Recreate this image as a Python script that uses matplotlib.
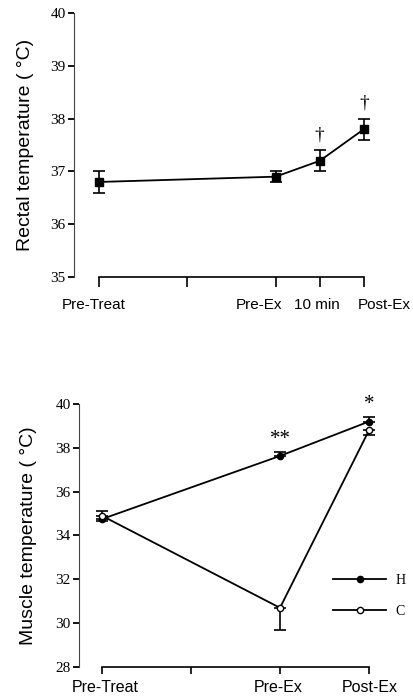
import matplotlib

matplotlib.use("Agg")
import matplotlib.pyplot as plt
import matplotlib.transforms as mtransforms
import numpy as np

# Rectal temperature (top panel)
rectal_x = [0, 2, 2.5, 3]
rectal_mean = [36.8, 36.9, 37.2, 37.8]
rectal_err = [0.2, 0.1, 0.2, 0.2]
rectal_marks = ["", "", "\u2020", "\u2020"]
rectal_ticks = [0, 1, 2, 2.5, 3]
rectal_ticklabels = ["Pre-Treat", "", "Pre-Ex", "10 min", "Post-Ex"]

# Muscle temperature (bottom panel)
muscle_x = [0, 2, 3]
muscle_h = [34.75, 37.63, 39.2]
muscle_h_err_lo = [0.1, 0.0, 0.0]
muscle_h_err_hi = [0.0, 0.17, 0.22]
muscle_c = [34.9, 30.7, 38.8]
muscle_c_err_lo = [0.0, 1.0, 0.2]
muscle_c_err_hi = [0.2, 0.0, 0.0]
muscle_marks = ["", "**", "*"]
muscle_ticks = [0, 1, 2, 3]
muscle_ticklabels = ["Pre-Treat", "", "Pre-Ex", "Post-Ex"]

serif = "Liberation Serif"
sans = "Liberation Sans"

fig = plt.figure(figsize=(4.13, 7.0), dpi=100)


def style_axes(ax, ymin, ymax, ystep):
    for side in ("top", "right"):
        ax.spines[side].set_visible(False)
    ax.spines["left"].set_linewidth(0.8)
    ax.spines["left"].set_color("#444444")
    ax.spines["bottom"].set_linewidth(1.2)
    ax.spines["bottom"].set_bounds(0, 3)
    ax.set_ylim(ymin, ymax)
    ax.set_yticks(np.arange(ymin, ymax + 0.01, ystep))
    ax.tick_params(axis="y", direction="out", length=4.5, width=1.3, pad=1.5)
    for lbl in ax.get_yticklabels():
        lbl.set_fontfamily(serif)
        lbl.set_fontsize(11)


def shift_ticklabels(ax, offsets_px):
    for lbl, dx in zip(ax.get_xticklabels(), offsets_px):
        lbl.set_transform(lbl.get_transform() + mtransforms.ScaledTranslation(dx / 100, 0, fig.dpi_scale_trans))


# ---- top panel ----
ax1 = fig.add_axes([74 / 413, 1 - 277 / 700, (405 - 74) / 413, (277 - 13) / 700])
ax1.set_xlim(-0.283, (405 - 99) / 88.3)
style_axes(ax1, 35, 40, 1)
ax1.errorbar(rectal_x, rectal_mean, yerr=rectal_err, fmt="s-", color="black",
             markersize=5.5, linewidth=1.3, elinewidth=1.2, capsize=4.5, capthick=1.2)
for x, m, e, s in zip(rectal_x, rectal_mean, rectal_err, rectal_marks):
    if s:
        ax1.annotate(s, (x, m + e), xytext=(0, 5), textcoords="offset points",
                     ha="center", va="bottom", fontsize=14, family=serif)
ax1.set_xticks(rectal_ticks)
ax1.set_xticklabels(rectal_ticklabels, fontsize=11, family=sans)
ax1.tick_params(axis="x", direction="out", length=7, width=1.2, pad=8)
shift_ticklabels(ax1, [-5, 0, -17, -3, 20])
ax1.set_ylabel("Rectal temperature ( \u00b0C)", fontsize=14, family=sans, labelpad=12)

# ---- bottom panel ----
ax2 = fig.add_axes([79 / 413, 1 - 667 / 700, (405 - 79) / 413, (667 - 404) / 700])
ax2.set_xlim(-0.258, (405 - 102) / 89)
style_axes(ax2, 28, 40, 2)
ax2.errorbar(muscle_x, muscle_h, yerr=[muscle_h_err_lo, muscle_h_err_hi], fmt="none",
             ecolor="black", elinewidth=1.2, capsize=4.5, capthick=1.2)
ax2.errorbar(muscle_x, muscle_c, yerr=[muscle_c_err_lo, muscle_c_err_hi], fmt="none",
             ecolor="black", elinewidth=1.2, capsize=4.5, capthick=1.2)
ax2.plot(muscle_x, muscle_h, "o-", color="black", markersize=4.5, linewidth=1.3, label="H")
ax2.plot(muscle_x, muscle_c, "o-", color="black", markerfacecolor="white",
         markersize=4.5, linewidth=1.3, label="C")
for x, m, e, s in zip(muscle_x, muscle_h, muscle_h_err_hi, muscle_marks):
    if s:
        ax2.annotate(s, (x, m + e), xytext=(0, 2), textcoords="offset points",
                     ha="center", va="bottom", fontsize=15, family=serif)
ax2.set_xticks(muscle_ticks)
ax2.set_xticklabels(muscle_ticklabels, fontsize=11.5, family=sans)
ax2.tick_params(axis="x", direction="out", length=5, width=1.2, pad=4)
shift_ticklabels(ax2, [3, 0, -2, 1])
ax2.set_ylabel("Muscle temperature ( \u00b0C)", fontsize=14, family=sans, labelpad=13)

leg = ax2.legend(loc="upper left", bbox_to_anchor=(0.78, 0.355), frameon=False,
                 handlelength=3.8, handletextpad=0.7, labelspacing=1.3, borderpad=0,
                 borderaxespad=0, prop={"family": serif, "size": 10}, numpoints=1)

fig.savefig("out.png", dpi=100)
